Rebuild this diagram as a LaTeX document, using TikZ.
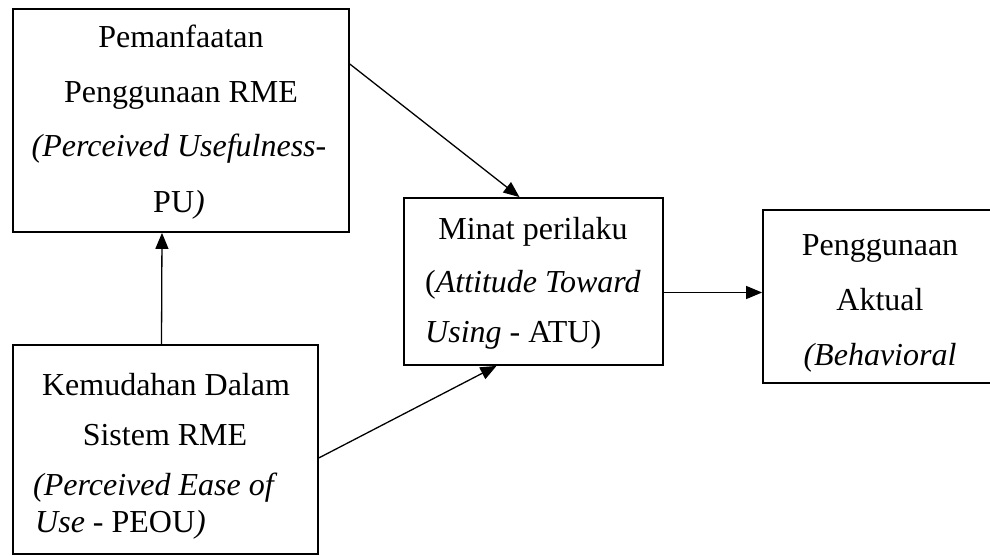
\documentclass[tikz,border=0pt]{standalone}
\usepackage{fontspec}
\setmainfont{Liberation Serif}
\usetikzlibrary{positioning,arrows.meta}
\begin{document}
\begin{tikzpicture}[x=1pt,y=-1pt,
  kotak/.style={draw,line width=1.8,inner sep=0},
  baris/.style={font=\fontsize{32}{38}\selectfont,inner sep=0,anchor=base},
  panah/.style={-{Triangle[length=16pt,width=13pt]},line width=1.3}]
\useasboundingbox (0,0) rectangle (990,556);
% kotak-kotak
\node[kotak,minimum width=336,minimum height=223] (pu) at (181,120.5) {};
\node[kotak,minimum width=305,minimum height=209] (peou) at (165.5,449.5) {};
\node[kotak,minimum width=259,minimum height=167] (atu) at (533.5,281.5) {};
\node[kotak,minimum width=260,minimum height=173] (ba) at (893,296.5) {};
% teks
\node[baris] (pu1) at (181,48) {Pemanfaatan};
\node[baris] (pu2) at (181,103) {Penggunaan RME};
\node[baris] (pu3) at (179,157) {\textit{(Perceived Usefulness-}};
\node[baris] (pu4) at (179,212) {PU\textit{)}};
\node[baris] (peou1) at (166,395) {Kemudahan Dalam};
\node[baris] (peou2) at (165,445) {Sistem RME};
\node[baris,anchor=base west] (peou3) at (33,495) {\textit{(Perceived Ease of}};
\node[baris,anchor=base west] (peou4) at (35,532) {\textit{Use} - PEOU\textit{)}};
\node[baris] (atu1) at (533,240) {Minat perilaku};
\node[baris,anchor=base west] (atu2) at (425,292) {(\textit{Attitude Toward}};
\node[baris,anchor=base west] (atu3) at (425,342) {\textit{Using} - ATU)};
\node[baris] (ba1) at (880,255) {Penggunaan};
\node[baris] (ba2) at (880,310) {Aktual};
\node[baris] (ba3) at (880,365) {\textit{(Behavioral}};
% panah
\draw[panah] ([yshift=-56pt]pu.north east) -- ([xshift=-14pt]atu.north);
\draw[panah] ([yshift=97pt]peou.south east) -- ([xshift=-37pt]atu.south);
\draw[panah] ([xshift=-4pt]peou.north) -- ([xshift=-19pt]pu.south);
\draw[panah] ([yshift=-11pt]atu.east) -- ([yshift=-11pt]atu.east -| ba.west);
\end{tikzpicture}
\end{document}
